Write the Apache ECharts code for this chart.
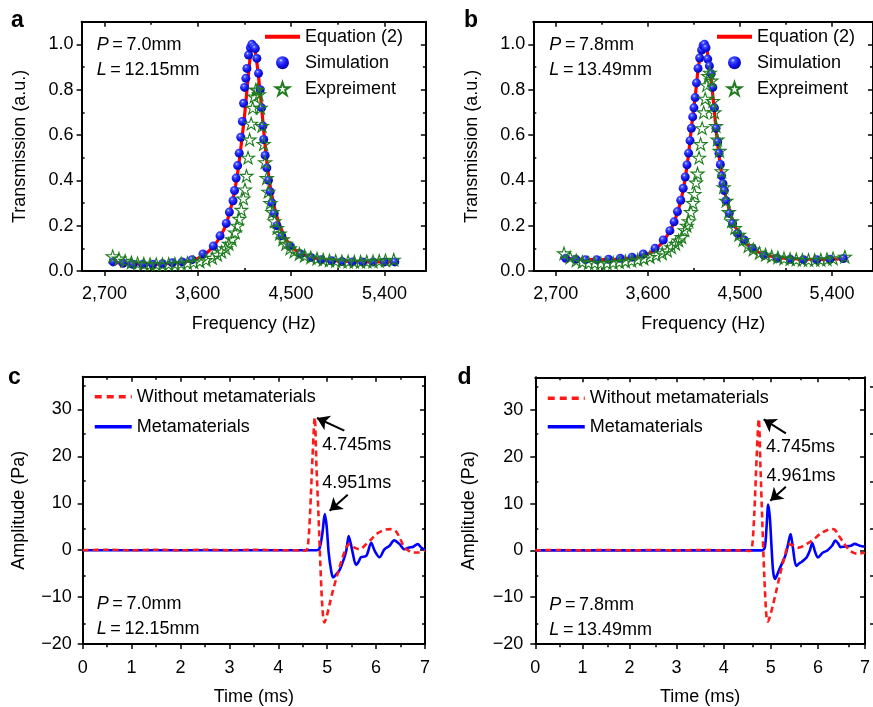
<!DOCTYPE html>
<html><head><meta charset="utf-8">
<script src="https://cdn.jsdelivr.net/npm/echarts@6/dist/echarts.min.js"></script>
<style>html,body{margin:0;padding:0;background:#fff}#c{width:873px;height:707px}</style>
</head><body><div id="c"></div>
<script>
// ---------- Panel a data ----------
const aEqF = [2750, 2900, 3050, 3200, 3350, 3500, 3600, 3700, 3780, 3850, 3900, 3950, 3990, 4020, 4050, 4075, 4100, 4120, 4135, 4150, 4170, 4190, 4210, 4230, 4250, 4275, 4300, 4340, 4400, 4480, 4580, 4700, 4850, 5000, 5200, 5400, 5500];
const aEqT = [0.04, 0.033, 0.030, 0.030, 0.034, 0.042, 0.055, 0.085, 0.125, 0.18, 0.245, 0.34, 0.45, 0.56, 0.68, 0.80, 0.92, 0.99, 1.0, 0.98, 0.92, 0.84, 0.75, 0.65, 0.55, 0.45, 0.37, 0.28, 0.19, 0.12, 0.08, 0.06, 0.048, 0.043, 0.040, 0.040, 0.040];
const aSimF = [2785, 2880, 2975, 3070, 3165, 3260, 3355, 3450, 3545, 3650, 3750, 3815, 3875, 3905, 3940, 3955, 3970, 3985, 4000, 4015, 4030, 4042, 4052, 4064, 4074, 4090, 4108, 4122, 4140, 4155, 4170, 4186, 4202, 4216, 4228, 4236, 4250, 4266, 4282, 4298, 4315, 4337, 4363, 4410, 4490, 4590, 4690, 4790, 4890, 4990, 5090, 5190, 5290, 5400, 5500];
const aSimT = [0.040, 0.034, 0.030, 0.030, 0.030, 0.032, 0.036, 0.040, 0.050, 0.075, 0.110, 0.155, 0.210, 0.260, 0.310, 0.355, 0.410, 0.465, 0.520, 0.590, 0.660, 0.740, 0.810, 0.850, 0.894, 0.953, 0.985, 1.000, 0.990, 0.982, 0.938, 0.872, 0.800, 0.720, 0.640, 0.580, 0.510, 0.455, 0.400, 0.350, 0.300, 0.254, 0.200, 0.155, 0.110, 0.075, 0.060, 0.050, 0.045, 0.042, 0.040, 0.040, 0.040, 0.040, 0.040];
const aExpF = [2780, 2840, 2900, 2960, 3020, 3080, 3140, 3200, 3260, 3320, 3380, 3440, 3500, 3560, 3620, 3680, 3740, 3790, 3830, 3870, 3900, 3930, 3960, 3980, 4000, 4020, 4040, 4055, 4070, 4085, 4100, 4115, 4130, 4145, 4160, 4175, 4190, 4205, 4220, 4235, 4250, 4265, 4280, 4300, 4320, 4340, 4365, 4390, 4420, 4450, 4490, 4530, 4580, 4630, 4690, 4750, 4810, 4870, 4930, 4990, 5050, 5110, 5170, 5230, 5290, 5350, 5410, 5490];
const aExpT = [0.065, 0.055, 0.045, 0.038, 0.034, 0.032, 0.030, 0.030, 0.030, 0.031, 0.032, 0.034, 0.036, 0.039, 0.043, 0.049, 0.058, 0.072, 0.085, 0.10, 0.12, 0.14, 0.17, 0.20, 0.23, 0.27, 0.32, 0.36, 0.42, 0.50, 0.58, 0.65, 0.72, 0.77, 0.80, 0.80, 0.78, 0.72, 0.64, 0.56, 0.48, 0.41, 0.35, 0.30, 0.26, 0.22, 0.19, 0.165, 0.14, 0.12, 0.10, 0.087, 0.076, 0.068, 0.060, 0.055, 0.050, 0.047, 0.045, 0.043, 0.042, 0.041, 0.041, 0.042, 0.043, 0.045, 0.047, 0.050];

// ---------- Panel b data ----------
const bEqF = [2750, 2900, 3050, 3200, 3350, 3500, 3620, 3720, 3800, 3860, 3910, 3950, 3990, 4030, 4065, 4095, 4120, 4140, 4155, 4170, 4190, 4215, 4240, 4265, 4290, 4320, 4350, 4390, 4440, 4510, 4600, 4720, 4870, 5050, 5250, 5450, 5550];
const bEqT = [0.058, 0.052, 0.050, 0.050, 0.054, 0.062, 0.080, 0.115, 0.165, 0.22, 0.29, 0.37, 0.49, 0.65, 0.78, 0.905, 0.965, 0.99, 1.0, 0.985, 0.94, 0.86, 0.75, 0.63, 0.53, 0.43, 0.35, 0.28, 0.21, 0.15, 0.105, 0.075, 0.06, 0.053, 0.051, 0.053, 0.055];
const bSimF = [2797, 2895, 2990, 3100, 3215, 3330, 3445, 3555, 3670, 3750, 3815, 3856, 3889, 3921, 3945, 3965, 3982, 3998, 4012, 4025, 4038, 4050, 4062, 4075, 4090, 4106, 4125, 4140, 4153, 4168, 4185, 4201, 4218, 4234, 4250, 4266, 4282, 4295, 4308, 4321, 4334, 4347, 4363, 4395, 4427, 4476, 4541, 4621, 4734, 4863, 4990, 5120, 5250, 5380, 5510];
const bSimT = [0.056, 0.052, 0.050, 0.050, 0.052, 0.056, 0.061, 0.075, 0.100, 0.137, 0.178, 0.217, 0.262, 0.312, 0.365, 0.415, 0.468, 0.520, 0.575, 0.630, 0.680, 0.720, 0.765, 0.830, 0.894, 0.940, 0.975, 0.995, 1.000, 0.985, 0.935, 0.905, 0.870, 0.810, 0.720, 0.630, 0.570, 0.520, 0.470, 0.420, 0.385, 0.355, 0.310, 0.254, 0.210, 0.166, 0.137, 0.100, 0.070, 0.056, 0.052, 0.050, 0.050, 0.052, 0.055];
const bExpF = [2780, 2840, 2900, 2960, 3020, 3080, 3140, 3200, 3260, 3320, 3380, 3440, 3500, 3560, 3620, 3680, 3740, 3790, 3830, 3870, 3900, 3930, 3960, 3980, 4000, 4020, 4040, 4055, 4070, 4085, 4100, 4115, 4130, 4145, 4160, 4175, 4190, 4205, 4220, 4235, 4250, 4265, 4280, 4300, 4320, 4340, 4365, 4390, 4420, 4450, 4490, 4530, 4580, 4630, 4690, 4750, 4810, 4870, 4930, 4990, 5050, 5110, 5170, 5230, 5290, 5350, 5410, 5525];
const bExpT = [0.078, 0.060, 0.047, 0.040, 0.036, 0.035, 0.034, 0.035, 0.037, 0.040, 0.043, 0.046, 0.050, 0.055, 0.062, 0.070, 0.078, 0.090, 0.105, 0.120, 0.135, 0.150, 0.180, 0.200, 0.220, 0.260, 0.300, 0.340, 0.390, 0.430, 0.500, 0.560, 0.630, 0.700, 0.760, 0.820, 0.860, 0.875, 0.840, 0.750, 0.700, 0.640, 0.580, 0.530, 0.440, 0.370, 0.310, 0.260, 0.220, 0.190, 0.160, 0.137, 0.110, 0.095, 0.080, 0.072, 0.065, 0.060, 0.056, 0.053, 0.051, 0.049, 0.049, 0.049, 0.050, 0.052, 0.056, 0.063];

// ---------- Panel c data ----------
const cRedT = [0, 0.5, 1.0, 1.5, 2.0, 2.5, 3.0, 3.5, 4.0, 4.3, 4.55, 4.6, 4.65, 4.7, 4.745, 4.78, 4.82, 4.86, 4.9, 4.94, 4.98, 5.05, 5.12, 5.2, 5.3, 5.4, 5.46, 5.55, 5.66, 5.8, 5.9, 6.0, 6.1, 6.2, 6.3, 6.4, 6.48, 6.58, 6.68, 6.75, 6.88, 7.0];
const cRedA = [0, 0.1, 0, 0.1, 0, 0.1, 0, 0.1, 0, 0, -0.1, 0.5, 8, 20, 28.3, 18, 8, -3, -12, -15.4, -14.5, -11.5, -8.5, -5.5, -2, 0.8, 1.3, 0.6, 0.2, 1.3, 2.3, 3.4, 4.0, 4.4, 4.5, 4.1, 2.7, 0.6, -0.2, -0.5, -0.5, -0.1];
const cBlueT = [0, 1, 2, 3, 4, 4.6, 4.775, 4.84, 4.9, 4.951, 4.99, 5.03, 5.08, 5.12, 5.18, 5.25, 5.32, 5.39, 5.44, 5.48, 5.52, 5.59, 5.64, 5.69, 5.8, 5.9, 5.97, 6.07, 6.17, 6.27, 6.37, 6.48, 6.58, 6.68, 6.75, 6.85, 6.92, 7.0];
const cBlueA = [0, 0, 0, 0, 0, 0, 0, 0.3, 3.5, 7.7, 5, -0.5, -4.3, -5.8, -5.2, -4.3, -2.5, -0.1, 3.0, 1.5, -0.5, -3.1, -2.5, -1.5, -1.2, 1.6, -0.1, -1.5, 0.2, 0.9, 2.1, 1.3, 0.2, 0.6, 0.7, 1.3, 0.6, 0];

// ---------- Panel d data ----------
const dRedT = [0, 0.5, 1, 1.5, 2, 2.5, 3, 3.5, 4, 4.3, 4.55, 4.6, 4.65, 4.7, 4.745, 4.78, 4.82, 4.86, 4.9, 4.93, 4.97, 5.05, 5.12, 5.2, 5.29, 5.39, 5.5, 5.59, 5.7, 5.8, 5.95, 6.07, 6.17, 6.27, 6.35, 6.41, 6.48, 6.55, 6.62, 6.68, 6.82, 7.0];
const dRedA = [0, 0.1, 0, 0.1, 0, 0.1, 0, 0.1, 0, 0, -0.1, 0.5, 8, 20, 28.1, 18, 6, -5, -13, -15.2, -14.5, -11.5, -8.5, -5, -1.5, 1.3, 1.0, 0.6, 1.0, 1.6, 2.7, 3.7, 4.2, 4.6, 4.5, 3.7, 2.6, 1.6, 0.6, -0.1, -0.7, -0.5];
const dBlueT = [0, 1, 2, 3, 4, 4.6, 4.8, 4.87, 4.91, 4.945, 4.98, 5.02, 5.05, 5.09, 5.17, 5.25, 5.32, 5.38, 5.42, 5.47, 5.54, 5.6, 5.66, 5.76, 5.83, 5.88, 5.94, 6.0, 6.1, 6.2, 6.3, 6.37, 6.43, 6.48, 6.55, 6.61, 6.7, 6.78, 6.89, 7.0];
const dBlueA = [0, 0, 0, 0, 0, 0, 0, 0.5, 5, 9.8, 7, 0, -4.5, -6.1, -4.3, -2.5, -0.8, 2.0, 3.5, 0.5, -3.3, -2.8, -2.4, -1.5, 0, 1.6, -0.3, -1.5, -0.5, 0, 1.0, 2.1, 1.5, 0.7, 0.8, 0.9, 1.0, 1.4, 1.0, 0.8];

// ---------- ticks ----------
const freqMajor = [2700, 3600, 4500, 5400];
const freqMinor = [3150, 4050, 4950];
const transMajor = [0, 0.2, 0.4, 0.6, 0.8, 1.0];
const transMinor = [0.1, 0.3, 0.5, 0.7, 0.9];
const timeMajor = [0, 1, 2, 3, 4, 5, 6, 7];
const timeMinor = [0.5, 1.5, 2.5, 3.5, 4.5, 5.5, 6.5];
const ampMajor = [-20, -10, 0, 10, 20, 30];
const ampMinor = [-15, -5, 5, 15, 25, 35];

const FONT = "'Liberation Sans', Arial, Helvetica, sans-serif";
const zip = (xs, ys) => xs.map((x, i) => [x, ys[i]]);
const fmtFreq = v => String(Math.round(v)).replace(/\B(?=(\d{3})+(?!\d))/g, ',');
const fmtTrans = v => v.toFixed(1);
const fmtAmp = v => v < 0 ? '\u2212' + Math.abs(v) : String(v);
const fmtTime = v => String(v);

const grids = [], xAxis = [], yAxis = [], series = [];
const tickLine = {color: '#000', width: 1.5};

function axisSet(arr, g, posMain, posMirror, o) {
  const base = {type: 'value', min: o.min, max: o.max, splitLine: {show: false}, axisPointer: {show: false}};
  const mainIdx = arr.length;
  arr.push(Object.assign({}, base, {
    gridIndex: g, position: posMain,
    axisLine: {show: true, onZero: false, lineStyle: {color: '#000', width: 2}},
    axisTick: {show: true, inside: false, length: 5, customValues: o.major, lineStyle: tickLine},
    axisLabel: {show: true, customValues: o.major, formatter: o.fmt, fontSize: 18, color: '#000', fontFamily: FONT, margin: o.margin},
    name: o.name, nameLocation: 'middle', nameGap: o.nameGap,
    nameTextStyle: {fontSize: 18, color: '#000', fontFamily: FONT}
  }));
  arr.push(Object.assign({}, base, {
    gridIndex: g, position: posMirror,
    axisLine: {show: true, onZero: false, lineStyle: {color: '#000', width: 2}},
    axisTick: {show: true, inside: true, length: 5, customValues: o.major, lineStyle: tickLine},
    axisLabel: {show: false}
  }));
  arr.push(Object.assign({}, base, {
    gridIndex: g + 1, position: posMain,
    axisLine: {show: false, onZero: false},
    axisTick: {show: true, inside: true, length: 3, customValues: o.minor, lineStyle: tickLine},
    axisLabel: {show: false}
  }));
  arr.push(Object.assign({}, base, {
    gridIndex: g + 1, position: posMirror,
    axisLine: {show: false, onZero: false},
    axisTick: {show: true, inside: true, length: 3, customValues: o.minor, lineStyle: tickLine},
    axisLabel: {show: false}
  }));
  return mainIdx;
}

function panel(rect, xo, yo) {
  const g = grids.length;
  grids.push(Object.assign({containLabel: false}, rect));
  grids.push(Object.assign({containLabel: false}, rect));
  const xi = axisSet(xAxis, g, 'bottom', 'top', xo);
  const yi = axisSet(yAxis, g, 'left', 'right', yo);
  return {xi, yi};
}

const pA = panel({left: 81.6, top: 21.7, width: 344.3, height: 249.3},
  {min: 2480, max: 5800, major: freqMajor, minor: freqMinor, fmt: fmtFreq, margin: 14, name: 'Frequency (Hz)', nameGap: 44},
  {min: 0, max: 1.1, major: transMajor, minor: transMinor, fmt: fmtTrans, margin: 8, name: 'Transmission (a.u.)', nameGap: 53});
const pB = panel({left: 533.3, top: 21.7, width: 342.7, height: 249.3},
  {min: 2480, max: 5800, major: freqMajor, minor: freqMinor, fmt: fmtFreq, margin: 14, name: 'Frequency (Hz)', nameGap: 44},
  {min: 0, max: 1.1, major: transMajor, minor: transMinor, fmt: fmtTrans, margin: 8, name: 'Transmission (a.u.)', nameGap: 52});
const pC = panel({left: 82.7, top: 376.7, width: 342.3, height: 270.6},
  {min: 0, max: 7, major: timeMajor, minor: timeMinor, fmt: fmtTime, margin: 15, name: 'Time (ms)', nameGap: 44},
  {min: -20, max: 37, major: ampMajor, minor: ampMinor, fmt: fmtAmp, margin: 11, name: 'Amplitude (Pa)', nameGap: 55});
const pD = panel({left: 535.3, top: 377.3, width: 343, height: 270},
  {min: 0, max: 7, major: timeMajor, minor: timeMinor, fmt: fmtTime, margin: 15, name: 'Time (ms)', nameGap: 44},
  {min: -20, max: 37, major: ampMajor, minor: ampMinor, fmt: fmtAmp, margin: 12, name: 'Amplitude (Pa)', nameGap: 57});

const STAR = 'path://M0,-1L0.2245,-0.309L0.951,-0.309L0.363,0.118L0.588,0.809L0,0.382L-0.588,0.809L-0.363,0.118L-0.951,-0.309L-0.2245,-0.309Z';
const sphere = {type: 'radial', x: 0.38, y: 0.32, r: 0.72, colorStops: [
  {offset: 0, color: '#d8dcff'}, {offset: 0.2, color: '#4452ff'}, {offset: 0.6, color: '#1212ee'}, {offset: 1, color: '#07079c'}]};

function transmission(p, eqF, eqT, simF, simT, expF, expT) {
  series.push({name: 'Equation (2)', type: 'line', xAxisIndex: p.xi, yAxisIndex: p.yi, data: zip(eqF, eqT),
    smooth: 0.35, symbol: 'none', showSymbol: false, lineStyle: {color: '#ff0000', width: 3.2}, itemStyle: {color: '#ff0000'}, z: 2});
  series.push({name: 'Simulation', type: 'scatter', xAxisIndex: p.xi, yAxisIndex: p.yi, data: zip(simF, simT),
    symbol: 'circle', symbolSize: 9, itemStyle: {color: sphere, opacity: 1}, z: 3});
  series.push({name: 'Expreiment', type: 'scatter', xAxisIndex: p.xi, yAxisIndex: p.yi, data: zip(expF, expT),
    symbol: STAR, symbolSize: 13, symbolKeepAspect: true,
    itemStyle: {color: 'rgba(255,255,255,0)', borderColor: '#1e7d1e', borderWidth: 1.1, opacity: 1}, z: 4});
}
transmission(pA, aEqF, aEqT, aSimF, aSimT, aExpF, aExpT);
transmission(pB, bEqF, bEqT, bSimF, bSimT, bExpF, bExpT);

function timePanel(p, redT, redA, blueT, blueA, arrows, labels) {
  series.push({name: 'Metamaterials', type: 'line', xAxisIndex: p.xi, yAxisIndex: p.yi, data: zip(blueT, blueA),
    smooth: 0.3, symbol: 'none', showSymbol: false, lineStyle: {color: '#0000ff', width: 2.6}, itemStyle: {color: '#0000ff'}, z: 2,
    markPoint: {symbol: 'circle', symbolSize: 0, silent: true, animation: false,
      label: {show: true, position: 'right', distance: 0, formatter: '{b}', fontSize: 18, color: '#000', fontFamily: FONT},
      data: labels}
  });
  series.push({name: 'Without metamaterials', type: 'line', xAxisIndex: p.xi, yAxisIndex: p.yi, data: zip(redT, redA),
    smooth: 0.3, symbol: 'none', showSymbol: false, lineStyle: {color: '#ff1a1a', width: 2.6, type: [6, 4]}, itemStyle: {color: '#ff1a1a'}, z: 3,
    markLine: {silent: true, animation: false, symbol: ['none', 'arrow'], symbolSize: 12,
      lineStyle: {color: '#000', width: 2, type: 'solid'}, itemStyle: {color: '#000'}, label: {show: false}, emphasis: {disabled: true},
      data: arrows}
  });
}
timePanel(pC, cRedT, cRedA, cBlueT, cBlueA,
  [[{coord: [5.35, 25.5]}, {coord: [4.79, 28.2]}], [{coord: [5.42, 11.8]}, {coord: [5.05, 8.4]}]],
  [{name: '4.745ms', coord: [4.898, 22.5]}, {name: '4.951ms', coord: [4.898, 14.3]}]);
timePanel(pD, dRedT, dRedA, dBlueT, dBlueA,
  [[{coord: [5.32, 25.0]}, {coord: [4.85, 28.0]}], [{coord: [5.32, 13.6]}, {coord: [4.99, 10.6]}]],
  [{name: '4.745ms', coord: [4.898, 22.1]}, {name: '4.961ms', coord: [4.91, 16.0]}]);

const legText = {fontSize: 18, color: '#000', fontFamily: FONT};
const noSym = {opacity: 0};
const legA = [{name: 'Equation (2)', itemStyle: noSym, lineStyle: {width: 4}}, 'Simulation', 'Expreiment'];
const legC = [{name: 'Without metamaterials', itemStyle: noSym, lineStyle: {width: 3.5, type: [7, 5]}}, {name: 'Metamaterials', itemStyle: noSym, lineStyle: {width: 3.5}}];
const legend = [
  {data: legA, orient: 'vertical', left: 263, top: 27.7, itemWidth: 35, itemHeight: 13, itemGap: 8, textStyle: legText, selectedMode: false, padding: 0},
  {data: legA, orient: 'vertical', left: 715, top: 27.7, itemWidth: 35, itemHeight: 13, itemGap: 8, textStyle: legText, selectedMode: false, padding: 0},
  {data: legC, orient: 'vertical', left: 93, top: 387.7, itemWidth: 37, itemHeight: 13, itemGap: 12, textStyle: legText, selectedMode: false, padding: 0},
  {data: legC, orient: 'vertical', left: 546, top: 389.3, itemWidth: 37, itemHeight: 13, itemGap: 10.4, textStyle: legText, selectedMode: false, padding: 0}
];

function letter(t, x, y) {
  return {type: 'text', x: x, y: y, silent: true, style: {text: t, fill: '#000', font: 'bold 23px ' + FONT, align: 'left', verticalAlign: 'middle'}};
}
const rich = {
  i: {fontStyle: 'italic', fontSize: 18, fontFamily: FONT, fill: '#000', color: '#000'},
  n: {fontSize: 18, fontFamily: FONT, fill: '#000', color: '#000'}
};
function param(sym, val, x, y) {
  return {type: 'text', x: x, y: y, silent: true, style: {text: '{i|' + sym + '}{n|\u2009=\u2009' + val + '}', rich: rich, fill: '#000', font: '18px ' + FONT, align: 'left', verticalAlign: 'middle'}};
}

const chart = echarts.init(document.getElementById('c'), null, {renderer: 'canvas'});
chart.setOption({
  animation: false,
  backgroundColor: '#fff',
  textStyle: {fontFamily: FONT},
  grid: grids, xAxis: xAxis, yAxis: yAxis, series: series, legend: legend,
  graphic: {elements: [
    letter('a', 11, 20.5), letter('b', 464, 20.8), letter('c', 8, 377.3), letter('d', 457.5, 377.3),
    param('P', '7.0mm', 96.7, 45.4), param('L', '12.15mm', 96.7, 70.4),
    param('P', '7.8mm', 549.3, 45.4), param('L', '13.49mm', 549.3, 70.4),
    param('P', '7.0mm', 96.7, 604.4), param('L', '12.15mm', 96.7, 628.7),
    param('P', '7.8mm', 549.3, 605.4), param('L', '13.49mm', 549.3, 629.7)
  ]}
});
</script></body></html>
